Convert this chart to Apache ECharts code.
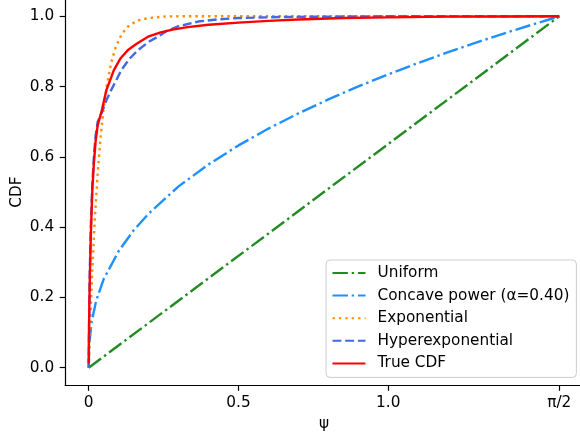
<!DOCTYPE html>
<html>
<head>
<meta charset="utf-8">
<script src="https://cdn.jsdelivr.net/npm/echarts@6/dist/echarts.min.js"></script>
<style>
html,body{margin:0;padding:0;background:#fff;}
#chart{width:580px;height:438px;}
</style>
</head>
<body>
<div id="chart"></div>
<script>
// ---- data ----
const seriesNames = ['Uniform', 'Concave power (\u03b1=0.40)', 'Exponential', 'Hyperexponential', 'True CDF'];

const psiUniform = [0, 1.5708];
const cdfUniform = [0, 1];

const psiConcave = [0, 0.002, 0.01, 0.025, 0.05, 0.1, 0.15, 0.2, 0.3, 0.4, 0.5, 0.6, 0.7, 0.8, 0.9, 1.0, 1.1, 1.2, 1.3, 1.4, 1.5708];
const cdfConcave = [0, 0.0695, 0.132, 0.191, 0.252, 0.332, 0.391, 0.4385, 0.516, 0.5786, 0.6326, 0.6805, 0.7237, 0.7634, 0.8003, 0.8347, 0.8672, 0.8979, 0.9271, 0.955, 1.0];

const psiExp = [0, 0.005, 0.01, 0.015, 0.02, 0.03, 0.04, 0.05, 0.06, 0.075, 0.09, 0.11, 0.13, 0.16, 0.2, 0.25, 0.3, 0.4, 0.6, 1.0, 1.5708];
const cdfExp = [0, 0.13, 0.24, 0.33, 0.42, 0.555, 0.66, 0.74, 0.8, 0.868, 0.912, 0.949, 0.97, 0.987, 0.995, 0.999, 1.0, 1.0, 1.0, 1.0, 1.0];

const psiHyper = [0, 0.001, 0.003, 0.0065, 0.012, 0.018, 0.023, 0.03, 0.047, 0.06, 0.075, 0.09, 0.109, 0.135, 0.165, 0.2, 0.231, 0.26, 0.298, 0.365, 0.43, 0.5, 0.65, 0.8, 1.0, 1.3, 1.5708];
const cdfHyper = [0, 0.1, 0.25, 0.39, 0.52, 0.61, 0.66, 0.7, 0.733, 0.763, 0.79, 0.815, 0.847, 0.878, 0.904, 0.927, 0.942, 0.958, 0.971, 0.985, 0.991, 0.995, 0.998, 0.999, 1.0, 1.0, 1.0];

const psiTrue = [0, 0.0005, 0.002, 0.0045, 0.0067, 0.009, 0.012, 0.017, 0.023, 0.03, 0.044, 0.059, 0.084, 0.105, 0.131, 0.16, 0.198, 0.24, 0.28, 0.33, 0.4, 0.5, 0.6, 0.7, 0.85, 1.0, 1.2, 1.4, 1.5708];
const cdfTrue = [0.012, 0.08, 0.18, 0.287, 0.363, 0.43, 0.506, 0.58, 0.645, 0.69, 0.733, 0.79, 0.847, 0.879, 0.904, 0.922, 0.942, 0.954, 0.962, 0.969, 0.976, 0.982, 0.987, 0.991, 0.995, 0.997, 0.999, 0.9995, 1.0];

const xTickValues = [0, 0.5, 1.0, 1.5708];
const xTickLabels = ['0', '0.5', '1.0', '\u03c0/2'];
const yTickValues = [0, 0.2, 0.4, 0.6, 0.8, 1.0];
const yTickLabels = ['0.0', '0.2', '0.4', '0.6', '0.8', '1.0'];

// ---- build ----
function pairs(xs, ys) { return xs.map((x, i) => [x, ys[i]]); }
function lookup(vals, labels, v) {
  let best = 0;
  for (let i = 1; i < vals.length; i++) if (Math.abs(vals[i] - v) < Math.abs(vals[best] - v)) best = i;
  return labels[best];
}
const FONT = 'DejaVu Sans';
const FS = 15.3;
const LW = 2.4;

function mkSeries(name, xs, ys, color, dash) {
  return {
    name: name, type: 'line', data: pairs(xs, ys), showSymbol: false, symbol: 'none',
    animation: false, smooth: false, clip: true,
    lineStyle: { color: color, width: LW, type: dash, cap: 'butt' },
    itemStyle: { color: color },
    emphasis: { disabled: true }
  };
}

const chart = echarts.init(document.getElementById('chart'), null, { renderer: 'canvas' });
chart.setOption({
  animation: false,
  backgroundColor: '#ffffff',
  textStyle: { fontFamily: FONT },
  grid: { left: 65.2, right: -2.8, top: -1.3, bottom: 52.7, containLabel: false, outerBoundsMode: 'none' },
  xAxis: {
    type: 'value', min: -0.07854, max: 1.64934,
    name: '\u03c8', nameLocation: 'middle', nameGap: 31.5, nameMoveOverlap: false,
    nameTextStyle: { fontFamily: FONT, fontSize: FS, color: '#000' },
    axisLine: { onZero: false, lineStyle: { color: '#000', width: 1.2 } },
    axisTick: { show: true, customValues: xTickValues, length: 5.5, lineStyle: { color: '#000', width: 1.2 } },
    axisLabel: { customValues: xTickValues, margin: 10.5, fontFamily: FONT, fontSize: FS, color: '#000',
      formatter: v => lookup(xTickValues, xTickLabels, v) },
    splitLine: { show: false }
  },
  yAxis: {
    type: 'value', min: -0.05, max: 1.05,
    name: 'CDF', nameLocation: 'middle', nameGap: 41, nameRotate: 90, nameMoveOverlap: false,
    nameTextStyle: { fontFamily: FONT, fontSize: FS, color: '#000' },
    axisLine: { show: true, onZero: false, lineStyle: { color: '#000', width: 1.2 } },
    axisTick: { show: true, customValues: yTickValues, length: 5.5, lineStyle: { color: '#000', width: 1.2 } },
    axisLabel: { customValues: yTickValues, margin: 11, fontFamily: FONT, fontSize: FS, color: '#000',
      formatter: v => lookup(yTickValues, yTickLabels, v) },
    splitLine: { show: false }
  },
  legend: {
    orient: 'vertical', left: 326, top: 260,
    data: seriesNames,
    itemWidth: 33, itemHeight: 16, itemGap: 6.6,
    padding: [5, 7, 6, 5.5],
    itemStyle: { opacity: 0 },
    backgroundColor: 'rgba(255,255,255,0.8)', borderColor: '#cccccc', borderWidth: 1, borderRadius: 4,
    textStyle: { fontFamily: FONT, fontSize: FS, color: '#000', padding: [0, 0, 0, 7], lineHeight: 16 },
    selectedMode: false
  },
  series: [
    mkSeries(seriesNames[0], psiUniform, cdfUniform, '#228B22', [15.4, 3.8, 2.4, 3.8]),
    mkSeries(seriesNames[1], psiConcave, cdfConcave, '#1E90FF', [15.4, 3.8, 2.4, 3.8]),
    mkSeries(seriesNames[2], psiExp, cdfExp, '#FF8C00', [2.4, 4.0]),
    mkSeries(seriesNames[3], psiHyper, cdfHyper, '#4169E1', [8.9, 3.8]),
    mkSeries(seriesNames[4], psiTrue, cdfTrue, '#FF0000', 'solid')
  ]
});
</script>
</body>
</html>
